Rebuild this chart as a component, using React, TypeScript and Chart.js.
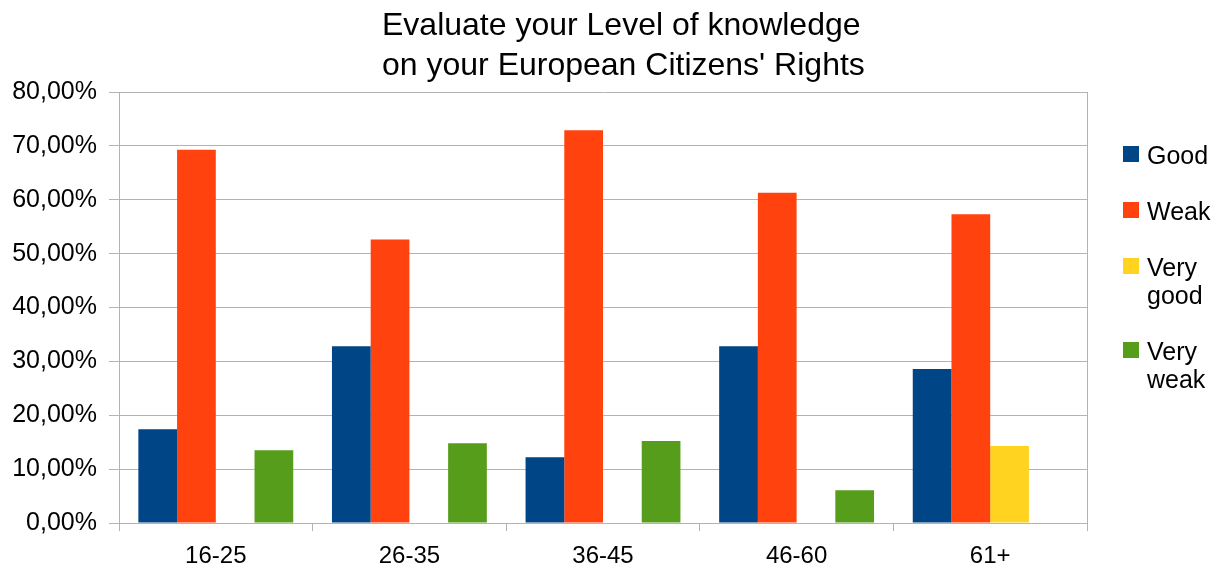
import React, { useEffect, useRef } from "react";
import { Chart, registerables } from "chart.js";

Chart.register(...registerables);

const categories = ["16-25", "26-35", "36-45", "46-60", "61+"];
const seriesNames = ["Good", "Weak", "Very good", "Very weak"];
const legendLines = [["Good"], ["Weak"], ["Very", "good"], ["Very", "weak"]];
const good = [17.4, 32.8, 12.2, 32.8, 28.6];
const weak = [69.3, 52.6, 72.9, 61.3, 57.3];
const veryGood = [0, 0, 0, 0, 14.3];
const veryWeak = [13.5, 14.8, 15.2, 6.1, 0];
const seriesColors = ["#004586", "#ff420e", "#ffd320", "#579d1c"];
const titleLines = ["Evaluate your Level of knowledge", "on your European Citizens' Rights"];
const yTickMin = 0;
const yTickMax = 80;
const yTickStep = 10;

const FONT = "'Liberation Sans', Arial, sans-serif";
const GRID = "#b3b3b3";

const decorPlugin = {
  id: "decor",
  afterDraw(chart: any) {
    const { ctx, chartArea } = chart;
    ctx.save();
    // Title
    ctx.fillStyle = "#000";
    ctx.font = `32px ${FONT}`;
    ctx.textAlign = "left";
    ctx.textBaseline = "alphabetic";
    titleLines.forEach((line, i) => {
      ctx.fillText(line, 382, 35 + i * 40);
    });
    // Legend
    ctx.font = `25px ${FONT}`;
    const boxX = chartArea.right + 36;
    const textX = boxX + 24;
    let baseline = chartArea.top + 72;
    legendLines.forEach((lines, i) => {
      ctx.fillStyle = seriesColors[i];
      ctx.fillRect(boxX, baseline - 18, 16, 16);
      ctx.fillStyle = "#000";
      lines.forEach((t, j) => {
        ctx.fillText(t, textX, baseline + j * 28);
      });
      baseline += lines.length * 28 + 28;
    });
    ctx.restore();
  },
};

export default function App() {
  const ref = useRef<HTMLCanvasElement | null>(null);
  useEffect(() => {
    if (!ref.current) return;
    const datasets = [good, weak, veryGood, veryWeak].map((d, i) => ({
      label: seriesNames[i],
      data: d,
      backgroundColor: seriesColors[i],
      borderWidth: 0,
      categoryPercentage: 0.8,
      barPercentage: 1.0,
    }));
    const chart = new Chart(ref.current, {
      type: "bar",
      data: { labels: categories, datasets },
      options: {
        animation: false,
        responsive: true,
        maintainAspectRatio: false,
        layout: { padding: { top: 92, right: 134, bottom: 1, left: 0 } },
        plugins: {
          legend: { display: false },
          title: { display: false },
          tooltip: { enabled: false },
        },
        scales: {
          x: {
            afterFit: (s: any) => {
              s.height = 48;
            },
            grid: {
              offset: true,
              drawOnChartArea: true,
              color: (c: any) => (c.type === "scale" ? GRID : "rgba(0,0,0,0)"),
              tickColor: GRID,
              tickLength: 8,
              lineWidth: 1,
            },
            border: { display: true, color: GRID },
            ticks: {
              color: "#000",
              padding: 11,
              font: { family: FONT, size: 24 },
            },
          },
          y: {
            min: yTickMin,
            max: yTickMax,
            afterFit: (s: any) => {
              s.width = 119;
            },
            grid: { color: GRID, tickColor: GRID, tickLength: 10, lineWidth: 1 },
            border: { display: true, color: GRID },
            ticks: {
              stepSize: yTickStep,
              color: "#000",
              padding: 12,
              font: { family: FONT, size: 25 },
              callback: (v: any) => Number(v).toFixed(2).replace(".", ",") + "%",
            },
          },
        },
      },
      plugins: [decorPlugin],
    });
    return () => chart.destroy();
  }, []);
  return (
    <div style={{ position: "fixed", left: 0, top: 0, width: 1221, height: 572, background: "#fff" }}>
      <canvas ref={ref} />
    </div>
  );
}
